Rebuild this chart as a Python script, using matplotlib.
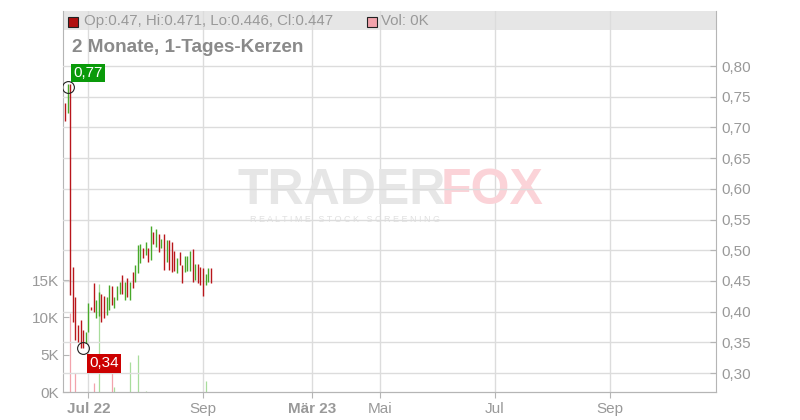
import matplotlib.pyplot as plt
from matplotlib.patches import Rectangle
import numpy as np

plt.rcParams['font.family'] = ['Liberation Sans', 'DejaVu Sans']

# trading-day index, 0 = 1. Jul 2022
days = list(range(-9, 48))
highs = [0.740, 0.771, 0.771, 0.473, 0.424, 0.378, 0.386, 0.370, 0.367, 0.414,
         0.407, 0.447, 0.419, 0.432, 0.429, 0.425, 0.424, 0.443, 0.442, 0.424,
         0.442, 0.448, 0.460, 0.448, 0.455, 0.448, 0.465, 0.476, 0.509, 0.510,
         0.504, 0.513, 0.504, 0.539, 0.530, 0.535, 0.526, 0.518, 0.526, 0.517,
         0.517, 0.513, 0.499, 0.487, 0.497, 0.476, 0.491, 0.491, 0.499, 0.502,
         0.478, 0.478, 0.473, 0.471, 0.461, 0.471, 0.471]
lows = [0.710, 0.724, 0.427, 0.383, 0.354, 0.350, 0.341, 0.340, 0.349, 0.367,
        0.403, 0.399, 0.390, 0.393, 0.383, 0.390, 0.395, 0.403, 0.411, 0.406,
        0.419, 0.428, 0.429, 0.419, 0.424, 0.419, 0.438, 0.448, 0.463, 0.479,
        0.487, 0.492, 0.481, 0.484, 0.510, 0.505, 0.497, 0.504, 0.468, 0.481,
        0.468, 0.464, 0.466, 0.463, 0.476, 0.447, 0.465, 0.466, 0.466, 0.448,
        0.452, 0.447, 0.443, 0.425, 0.443, 0.448, 0.446]
up = [0, 1, 0, 0, 0, 0, 0, 0, 1, 1,
      0, 0, 1, 1, 0, 0, 1, 1, 0, 1,
      1, 1, 0, 1, 0, 1, 0, 1, 1, 1,
      0, 1, 0, 1, 0, 1, 0, 1, 0, 1,
      0, 0, 0, 1, 0, 0, 1, 1, 1, 0,
      1, 0, 0, 0, 1, 1, 0]
volume = [0, 0, 10600, 0, 2500, 0, 0, 0, 0, 0,
          0, 1200, 0, 14500, 0, 0, 0, 0, 3000, 700,
          0, 0, 0, 0, 0, 4000, 0, 0, 5000, 0,
          0, 200, 0, 0, 0, 0, 0, 0, 0, 0,
          0, 0, 0, 0, 0, 0, 0, 0, 0, 0,
          0, 0, 0, 0, 1500, 0, 0]

tick_pos = [0, 44, 86, 112.1, 156.3, 200.6]
tick_labels = ['Jul 22', 'Sep', 'Mär 23', 'Mai', 'Jul', 'Sep']
price_ticks = [0.30, 0.35, 0.40, 0.45, 0.50, 0.55, 0.60, 0.65, 0.70, 0.75, 0.80]
vol_ticks = [0, 5000, 10000, 15000]

RED = '#b8161b'
GREEN = '#47a829'
PINK = '#f2a3ac'
LGREEN = '#a8dd9c'
GRAY = '#999999'

fig = plt.figure(figsize=(8, 4.2), dpi=100)
axv = fig.add_axes([63/800, 28/420, 653/800, 381/420])
ax = axv.twinx()
axv.set_zorder(0)
ax.set_zorder(1)
ax.patch.set_visible(False)

# volume (left axis)
vcol = [LGREEN if u else PINK for u in up]
axv.vlines(days, 0, volume, colors=vcol, lw=0.9)
axv.set_ylim(0, 51070)
axv.set_yticks(vol_ticks)
axv.set_yticklabels(['0K', '5K', '10K', '15K'])
axv.set_xlim(-9.8, 241.3)
axv.set_xticks(tick_pos)
axv.set_xticklabels(tick_labels)
for lbl in axv.get_xticklabels():
    if lbl.get_text() in ('Jul 22', 'Mär 23'):
        lbl.set_fontweight('bold')

# price (right axis)
ccol = [GREEN if u else RED for u in up]
ax.vlines(days, lows, highs, colors=ccol, lw=1.0, zorder=3)
ax.set_ylim(0.2691, 0.8896)
ax.set_yticks(price_ticks)
ax.set_yticklabels([f'{p:.2f}'.replace('.', ',') for p in price_ticks])

ax.grid(True, axis='y', color='#dcdcdc', lw=1.0)
axv.grid(True, axis='x', color='#dcdcdc', lw=1.0)
ax.set_axisbelow(True)
axv.set_axisbelow(True)

for a in (ax, axv):
    for s in a.spines.values():
        s.set_color('#b5b5b5')
    a.spines['top'].set_visible(False)
ax.spines['left'].set_visible(False)
axv.spines['right'].set_visible(False)
axv.tick_params(axis='y', direction='in', length=4, color='#b5b5b5',
                labelsize=11, labelcolor=GRAY, pad=3)
ax.tick_params(axis='y', direction='in', length=4, color='#b5b5b5',
               labelsize=11, labelcolor=GRAY, pad=4)
axv.tick_params(axis='x', direction='out', length=4, color='#b5b5b5',
                labelsize=11, labelcolor=GRAY, pad=3)

# header band
axv.add_patch(Rectangle((0, 0.950), 1, 0.05, transform=axv.transAxes,
                        facecolor='#e6e6e6', edgecolor='none', zorder=0.1))
fig.patches.append(Rectangle((68/800, 1-27/420), 10/800, 10/420,
                             transform=fig.transFigure, facecolor='#b01010',
                             edgecolor='#222222', lw=0.8))
fig.text(84/800, 1-21/420, 'Op:0.47, Hi:0.471, Lo:0.446, Cl:0.447',
         fontsize=10.8, color=GRAY, va='center')
fig.patches.append(Rectangle((367/800, 1-27/420), 10/800, 10/420,
                             transform=fig.transFigure, facecolor='#f2a3ac',
                             edgecolor='#222222', lw=0.8))
fig.text(381/800, 1-21/420, 'Vol: 0K', fontsize=10.8, color=GRAY, va='center')
fig.text(72/800, 1-47/420, '2 Monate, 1-Tages-Kerzen', fontsize=13.6,
         fontweight='bold', color='#8a8a8a', va='center')

# watermark
fig.text(238/800, 1-191/420, 'TRADER', fontsize=36, fontweight='heavy',
         color='#e6e6e6', va='center', zorder=0)
fig.text(441/800, 1-191/420, 'FOX', fontsize=36, fontweight='heavy',
         color='#fbd3d8', va='center', zorder=0)
fig.text(250/800, 1-219/420, 'R E A L T I M E   S T O C K   S C R E E N I N G',
         fontsize=6.5, color='#e0e0e0', va='center', zorder=0)

# high / low markers
ax.plot([-8], [0.766], 'o', ms=8.5, mfc='none', mec='#222222', mew=0.8, zorder=5)
ax.plot([-2], [0.340], 'o', ms=8.5, mfc='none', mec='#222222', mew=0.8, zorder=5)
ax.annotate('0,77', (-8, 0.766), xytext=(6, 14), textcoords='offset pixels',
            fontsize=11, color='white', va='center', ha='left', zorder=6,
            bbox=dict(boxstyle='square,pad=0.15', fc='#0a9a0a', ec='none'))
ax.annotate('0,34', (-2, 0.340), xytext=(6, -15), textcoords='offset pixels',
            fontsize=11, color='white', va='center', ha='left', zorder=6,
            bbox=dict(boxstyle='square,pad=0.15', fc='#cc0000', ec='none'))

plt.savefig('out.png', dpi=100)
